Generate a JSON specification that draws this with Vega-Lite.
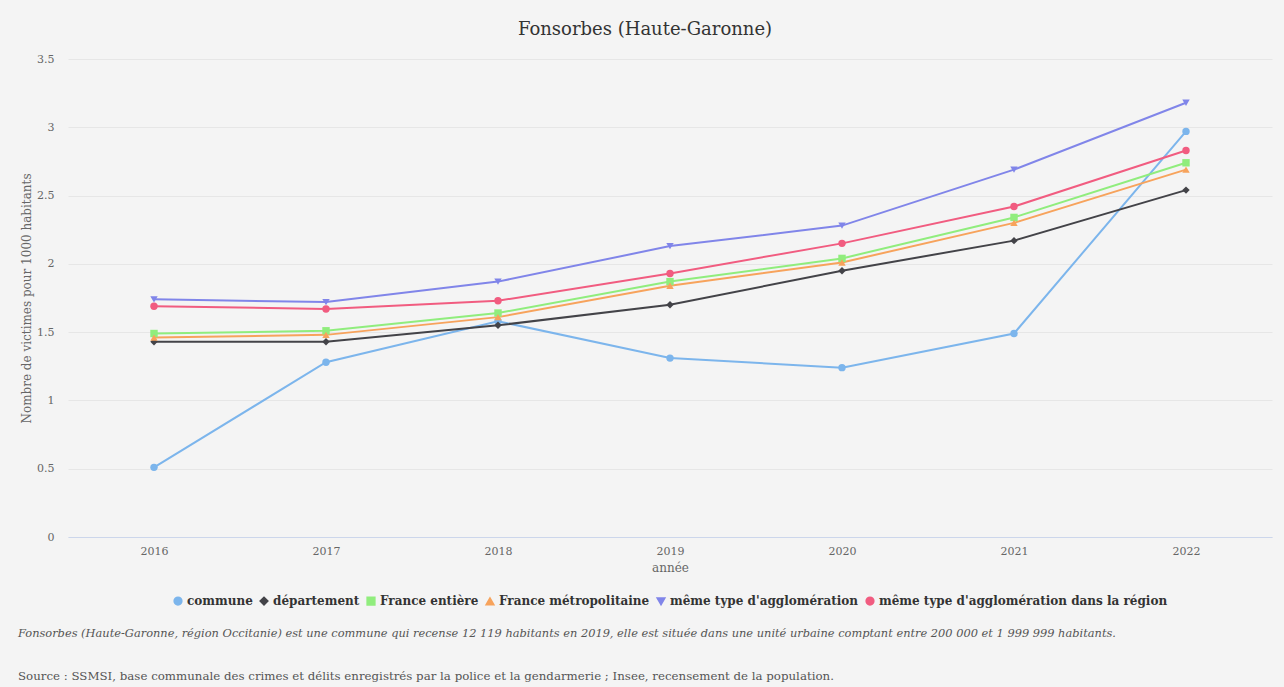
{
  "$schema": "https://vega.github.io/schema/vega-lite/v6.json",
  "background": "#f4f4f4",
  "padding": {"top": 21, "left": 18, "right": 12, "bottom": 4},
  "title": {
    "text": "Fonsorbes (Haute-Garonne)",
    "anchor": "middle",
    "fontSize": 18,
    "fontWeight": "normal",
    "color": "#333333",
    "font": "DejaVu Serif",
    "offset": 14
  },
  "config": {
    "font": "DejaVu Serif",
    "view": {"stroke": null},
    "axis": {
      "labelFont": "DejaVu Serif",
      "titleFont": "DejaVu Serif",
      "labelColor": "#666666",
      "titleColor": "#666666",
      "labelFontSize": 11,
      "titleFontSize": 12,
      "titleFontWeight": "normal",
      "ticks": false,
      "gridColor": "#e6e6e6"
    },
    "legend": {
      "labelFont": "DejaVu Serif",
      "labelFontSize": 12,
      "labelFontWeight": "bold",
      "labelColor": "#333333",
      "labelLimit": 500,
      "layout": {"bottom": {"anchor": "middle"}}
    }
  },
  "resolve": {"legend": {"color": "independent", "shape": "independent"}},
  "data": {
    "values": [
      {"annee": "2016", "serie": "commune", "valeur": 0.51},
      {"annee": "2017", "serie": "commune", "valeur": 1.28},
      {"annee": "2018", "serie": "commune", "valeur": 1.58},
      {"annee": "2019", "serie": "commune", "valeur": 1.31},
      {"annee": "2020", "serie": "commune", "valeur": 1.24},
      {"annee": "2021", "serie": "commune", "valeur": 1.49},
      {"annee": "2022", "serie": "commune", "valeur": 2.97},
      {"annee": "2016", "serie": "département", "valeur": 1.43},
      {"annee": "2017", "serie": "département", "valeur": 1.43},
      {"annee": "2018", "serie": "département", "valeur": 1.55},
      {"annee": "2019", "serie": "département", "valeur": 1.70},
      {"annee": "2020", "serie": "département", "valeur": 1.95},
      {"annee": "2021", "serie": "département", "valeur": 2.17},
      {"annee": "2022", "serie": "département", "valeur": 2.54},
      {"annee": "2016", "serie": "France entière", "valeur": 1.49},
      {"annee": "2017", "serie": "France entière", "valeur": 1.51},
      {"annee": "2018", "serie": "France entière", "valeur": 1.64},
      {"annee": "2019", "serie": "France entière", "valeur": 1.87},
      {"annee": "2020", "serie": "France entière", "valeur": 2.04},
      {"annee": "2021", "serie": "France entière", "valeur": 2.34},
      {"annee": "2022", "serie": "France entière", "valeur": 2.74},
      {"annee": "2016", "serie": "France métropolitaine", "valeur": 1.46},
      {"annee": "2017", "serie": "France métropolitaine", "valeur": 1.48},
      {"annee": "2018", "serie": "France métropolitaine", "valeur": 1.61},
      {"annee": "2019", "serie": "France métropolitaine", "valeur": 1.84},
      {"annee": "2020", "serie": "France métropolitaine", "valeur": 2.01},
      {"annee": "2021", "serie": "France métropolitaine", "valeur": 2.30},
      {"annee": "2022", "serie": "France métropolitaine", "valeur": 2.69},
      {"annee": "2016", "serie": "même type d'agglomération", "valeur": 1.74},
      {"annee": "2017", "serie": "même type d'agglomération", "valeur": 1.72},
      {"annee": "2018", "serie": "même type d'agglomération", "valeur": 1.87},
      {"annee": "2019", "serie": "même type d'agglomération", "valeur": 2.13},
      {"annee": "2020", "serie": "même type d'agglomération", "valeur": 2.28},
      {"annee": "2021", "serie": "même type d'agglomération", "valeur": 2.69},
      {"annee": "2022", "serie": "même type d'agglomération", "valeur": 3.18},
      {"annee": "2016", "serie": "même type d'agglomération dans la région", "valeur": 1.69},
      {"annee": "2017", "serie": "même type d'agglomération dans la région", "valeur": 1.67},
      {"annee": "2018", "serie": "même type d'agglomération dans la région", "valeur": 1.73},
      {"annee": "2019", "serie": "même type d'agglomération dans la région", "valeur": 1.93},
      {"annee": "2020", "serie": "même type d'agglomération dans la région", "valeur": 2.15},
      {"annee": "2021", "serie": "même type d'agglomération dans la région", "valeur": 2.42},
      {"annee": "2022", "serie": "même type d'agglomération dans la région", "valeur": 2.83}
    ]
  },
  "vconcat": [
    {
      "width": 1204,
      "height": 478,
      "title": {
        "text": "Fonsorbes (Haute-Garonne, région Occitanie) est une commune qui recense 12 119 habitants en 2019, elle est située dans une unité urbaine comptant entre 200 000 et 1 999 999 habitants.",
        "subtitle": "Source : SSMSI, base communale des crimes et délits enregistrés par la police et la gendarmerie ; Insee, recensement de la population.",
        "orient": "bottom",
        "anchor": "start",
        "frame": "group",
        "dx": -50,
        "offset": 20,
        "fontSize": 11.4,
        "fontStyle": "italic",
        "fontWeight": "normal",
        "color": "#555555",
        "font": "DejaVu Serif",
        "subtitleFont": "DejaVu Serif",
        "subtitleFontSize": 11.8,
        "subtitleColor": "#555555",
        "subtitlePadding": 32
      },
      "encoding": {
        "x": {
          "field": "annee",
          "type": "ordinal",
          "title": "année",
          "scale": {"type": "point", "padding": 0.5},
          "axis": {"labelAngle": 0, "domainColor": "#ccd6eb", "grid": false, "labelPadding": 8, "titlePadding": 6}
        },
        "y": {
          "field": "valeur",
          "type": "quantitative",
          "title": "Nombre de victimes pour 1000 habitants",
          "scale": {"domain": [0, 3.5]},
          "axis": {"values": [0, 0.5, 1, 1.5, 2, 2.5, 3, 3.5], "format": "~g", "domain": false, "labelPadding": 14, "titlePadding": 3}
        },
        "color": {
          "field": "serie",
          "type": "nominal",
          "scale": {
            "domain": ["commune", "département", "France entière", "France métropolitaine", "même type d'agglomération", "même type d'agglomération dans la région"],
            "range": ["#7cb5ec", "#434348", "#90ed7d", "#f7a35c", "#8085e9", "#f15c80"]
          },
          "legend": {"title": null, "orient": "bottom", "direction": "horizontal", "columns": 6, "offset": 22, "columnPadding": 4, "symbolSize": 60, "labelOffset": 3}
        }
      },
      "layer": [
        {"mark": {"type": "line", "strokeWidth": 2}},
        {
          "mark": {"type": "point", "filled": true, "opacity": 1, "size": 55},
          "encoding": {
            "shape": {
              "field": "serie",
              "type": "nominal",
              "scale": {
                "domain": ["commune", "département", "France entière", "France métropolitaine", "même type d'agglomération", "même type d'agglomération dans la région"],
                "range": ["circle", "diamond", "square", "triangle-up", "triangle-down", "circle"]
              },
              "legend": {"title": null, "orient": "bottom", "direction": "horizontal", "columns": 6, "offset": 22, "columnPadding": 4, "symbolSize": 60, "labelOffset": 3}
            }
          }
        }
      ]
    }
  ]
}
